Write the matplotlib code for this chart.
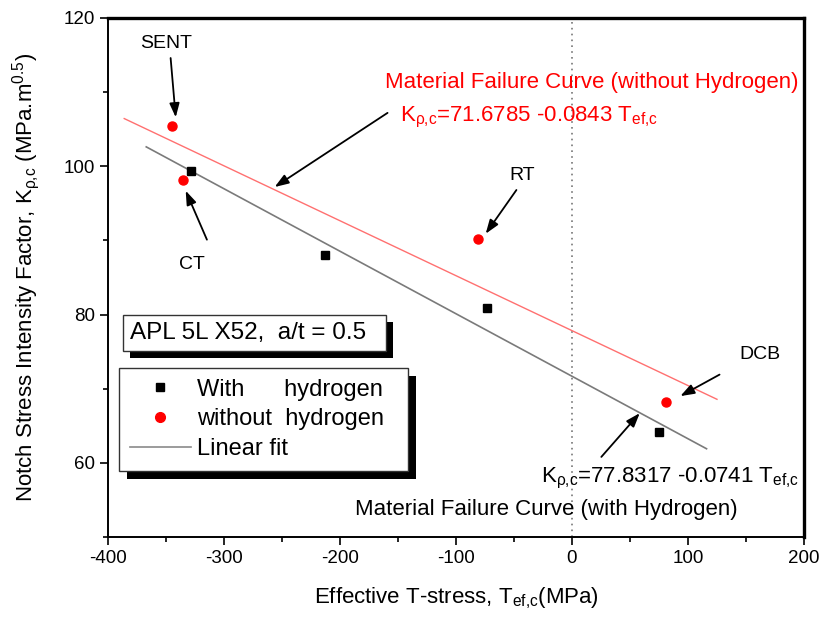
import numpy as np
import matplotlib
matplotlib.use('Agg')
import matplotlib.pyplot as plt
from matplotlib.lines import Line2D
from matplotlib.patches import Rectangle
import matplotlib.transforms as mt

plt.rcParams['font.family'] = ['Liberation Sans', 'DejaVu Sans']
plt.rcParams['mathtext.fontset'] = 'custom'
plt.rcParams['mathtext.rm'] = 'Liberation Sans'
plt.rcParams['mathtext.it'] = 'Liberation Sans:italic'
plt.rcParams['mathtext.bf'] = 'Liberation Sans:bold'
plt.rcParams['axes.unicode_minus'] = False

# data
t_with = [-328, -213, -73, 75]
k_with = [99.4, 88.0, 80.9, 64.1]
t_without = [-345, -335, -81, 81]
k_without = [105.4, 98.2, 90.2, 68.2]
specimens = ['SENT', 'CT', 'RT', 'DCB']

# fitted curves as drawn (intercept, slope, x extent)
fit_red = (77.8317, -0.0741)
fit_red_x = [-386, 125]
fit_gray = (71.6785, -0.0843)
fit_gray_x = [-367, 116]

fig = plt.figure(figsize=(8.23, 6.2), dpi=100)
ax = fig.add_axes([0.1312, 0.1339, 0.8457, 0.8371])

ax.axvline(0, color='#777777', linestyle=(0, (1, 2.5)), lw=1.2, zorder=1)

xr = np.array(fit_red_x)
ax.plot(xr, fit_red[0] + fit_red[1] * xr, color='#ff7070', lw=1.0, zorder=2)
xg = np.array(fit_gray_x)
ax.plot(xg, fit_gray[0] + fit_gray[1] * xg, color='#7a7a7a', lw=1.2, zorder=2)

ax.plot(t_with, k_with, 's', color='black', ms=5.5, zorder=3)
ax.plot(t_without, k_without, 'o', color='red', ms=6.5, mec='red', zorder=3)

ax.set_xlim(-400, 200)
ax.set_ylim(50, 120)
ax.set_xticks(np.arange(-400, 201, 100))
ax.set_yticks([60, 80, 100, 120])
ax.set_xticks(np.arange(-350, 200, 100), minor=True)
ax.set_yticks([50, 70, 90, 110], minor=True)
ax.tick_params(which='major', length=6, width=1.2, labelsize=13.5, direction='out')
ax.tick_params(which='minor', length=3.5, width=1.2, direction='out')
for s in ['left', 'bottom']:
    ax.spines[s].set_linewidth(1.4)
for s in ['top', 'right']:
    ax.spines[s].set_linewidth(2.4)

sub_k = '$_{\\mathregular{ρ{,}c}}$'
sub_t = '$_{\\mathregular{ef{,}c}}$'
ax.set_xlabel('Effective T-stress, T' + sub_t + '(MPa)', fontsize=16, labelpad=13)
ax.set_ylabel('Notch Stress Intensity Factor, K' + sub_k + ' (MPa.m$^{\\mathregular{0.5}}$)',
              fontsize=16)
ax.yaxis.set_label_coords(-0.095, 0.5)

# labels and arrows for each specimen
label_pos = [(-349.7, 116.6), (-327.2, 86.7), (-42.5, 98.8), (161.8, 74.6)]
arrow_tail = [(-346, 114.6), (-314.7, 90.1), (-47.9, 96.8), (127.2, 71.9)]
arrow_head = [(-341.6, 106.6), (-333, 96.7), (-74.4, 90.9), (93.4, 69.0)]
aprops = dict(arrowstyle='-|>,head_length=0.7,head_width=0.25', color='black',
              lw=1.3, shrinkA=0, shrinkB=0, mutation_scale=12)
for name, lp, tl, hd in zip(specimens, label_pos, arrow_tail, arrow_head):
    ax.text(lp[0], lp[1], name, fontsize=14, ha='center', va='center')
    ax.annotate('', xy=hd, xytext=tl, arrowprops=aprops)

ax.annotate('', xy=(-256.3, 97.2), xytext=(-159, 107.2), arrowprops=aprops)
ax.annotate('', xy=(58.4, 66.7), xytext=(25.3, 60.8), arrowprops=aprops)

ax.text(-161.5, 110.5, 'Material Failure Curve (without Hydrogen)', color='red',
        fontsize=16, ha='left', va='baseline')
ax.text(-148, 106.0, 'K' + sub_k + '=71.6785 -0.0843 T' + sub_t, color='red',
        fontsize=16, ha='left', va='baseline')
ax.text(-26.4, 57.4, 'K' + sub_k + '=77.8317 -0.0741 T' + sub_t, color='black',
        fontsize=16, ha='left', va='baseline')
ax.text(-187.3, 53.0, 'Material Failure Curve (with Hydrogen)', color='black',
        fontsize=16, ha='left', va='baseline')

box_txt = ax.text(0.0316, 0.393, 'APL 5L X52,  a/t = 0.5  ', transform=ax.transAxes,
                  fontsize=17.5, ha='left', va='center', zorder=6,
                  bbox=dict(boxstyle='square,pad=0.28', fc='white', ec='#333333', lw=1.0))

handles = [Line2D([], [], marker='s', ls='none', color='black', ms=6),
           Line2D([], [], marker='o', ls='none', color='red', ms=7),
           Line2D([], [], color='#8a8a8a', lw=1.2)]
labels = ['With      hydrogen  ', 'without  hydrogen  ', 'Linear fit']
leg = ax.legend(handles, labels, loc='upper left', bbox_to_anchor=(0.0158, 0.3256),
                borderaxespad=0, fontsize=17, fancybox=False, framealpha=1,
                edgecolor='#333333', handlelength=2.6, handletextpad=0.25,
                labelspacing=0.33, borderpad=0.45)
leg.get_frame().set_linewidth(1.0)
leg.set_zorder(6)

# Origin-style black drop shadows behind the two boxes
fig.canvas.draw()
r = fig.canvas.get_renderer()
for patch, off in [(box_txt.get_bbox_patch(), 7), (leg.get_frame(), 8)]:
    bb = patch.get_window_extent(r)
    ax.add_patch(Rectangle((bb.x0 + off, bb.y0 - off), bb.width, bb.height,
                           transform=mt.IdentityTransform(), fc='black', ec='none',
                           zorder=5.5, clip_on=False))

fig.savefig('out.png', dpi=100)
